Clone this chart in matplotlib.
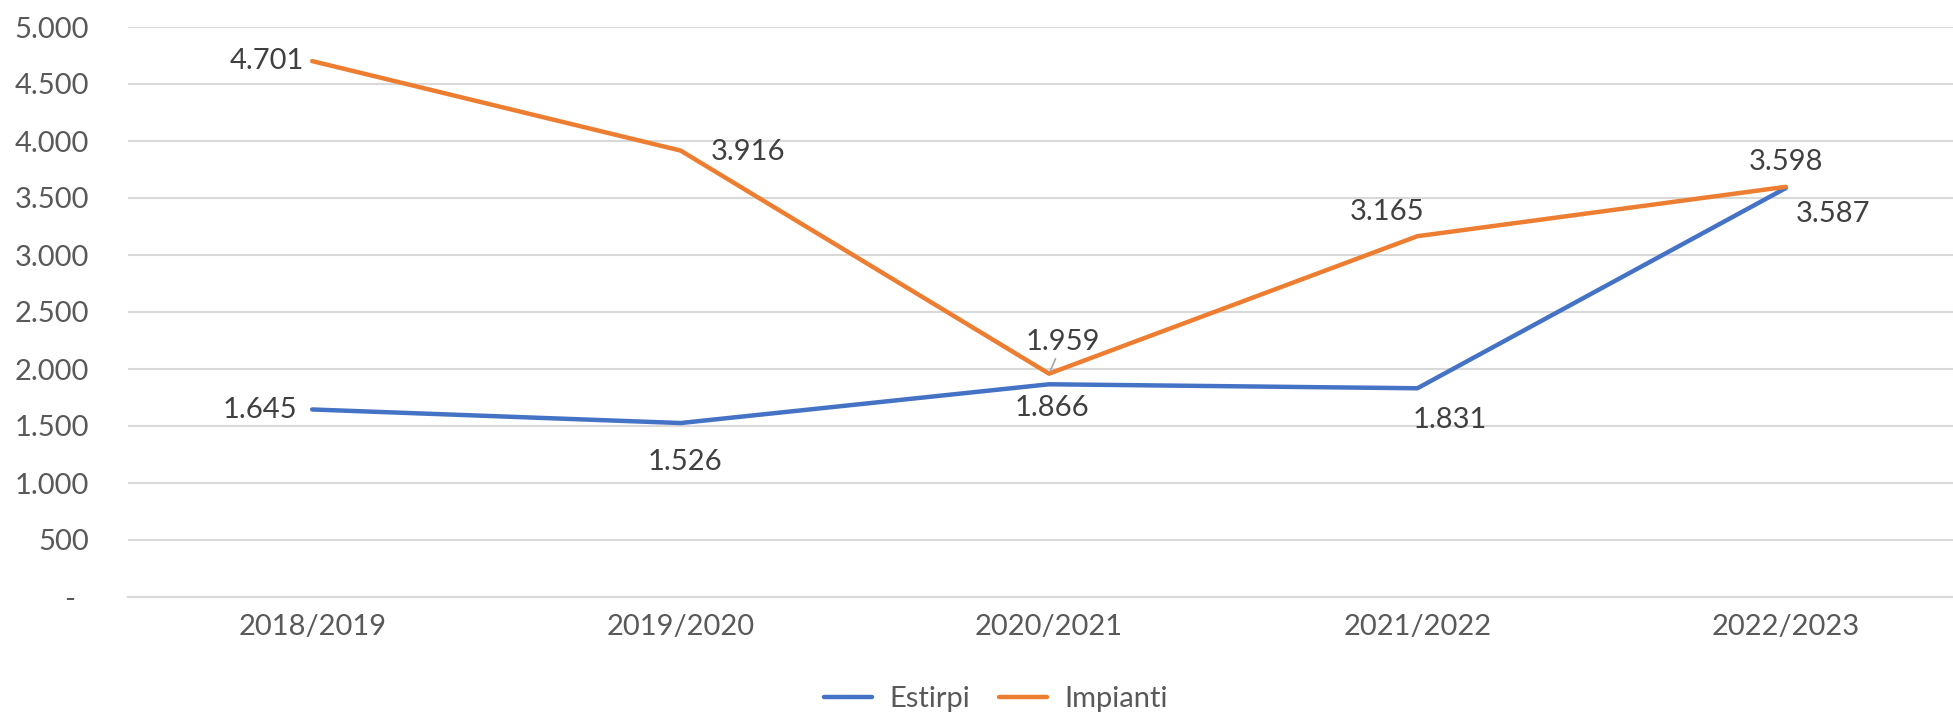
import matplotlib
matplotlib.use("Agg")
import matplotlib.pyplot as plt
import matplotlib.transforms as mtransforms
from matplotlib.ticker import FuncFormatter

categories = ["2018/2019", "2019/2020", "2020/2021", "2021/2022", "2022/2023"]
estirpi = [1645, 1526, 1866, 1831, 3587]
impianti = [4701, 3916, 1959, 3165, 3598]
yticks = [0, 500, 1000, 1500, 2000, 2500, 3000, 3500, 4000, 4500, 5000]

BLUE = "#4472C4"
ORANGE = "#ED7D31"
GRID = "#D9D9D9"
TICK = "#595959"
LABEL = "#404040"
FS = 21

plt.rcParams['font.family'] = ['Lato', 'DejaVu Sans']

W, H = 1953, 716
fig = plt.figure(figsize=(W / 100, H / 100), dpi=100)
left, right, bottom, top = 128, 1970, 597, 27
ax = fig.add_axes([left / W, 1 - bottom / H, (right - left) / W, (bottom - top) / H])

x = list(range(len(categories)))
ax.plot(x, estirpi, color=BLUE, lw=3.2, solid_capstyle='round', label="Estirpi", zorder=3)
ax.plot(x, impianti, color=ORANGE, lw=3.2, solid_capstyle='round', label="Impianti", zorder=3)

ax.set_xlim(-0.5, len(categories) - 0.5)
ax.set_ylim(0, 5000)
ax.set_yticks(yticks)

def fmt(v, pos):
    if v == 0:
        return "-"
    return f"{int(v):,}".replace(",", ".")

ax.yaxis.set_major_formatter(FuncFormatter(fmt))
ax.set_xticks(x)
ax.set_xticklabels(categories)
ax.grid(axis='y', color=GRID, lw=1.5)
ax.set_axisbelow(True)
for s in ax.spines.values():
    s.set_visible(False)
ax.spines['bottom'].set_visible(True)
ax.spines['bottom'].set_color(GRID)
ax.spines['bottom'].set_linewidth(1.5)
ax.tick_params(axis='both', length=0, labelsize=FS, colors=TICK)
ax.tick_params(axis='y', pad=28)
ax.tick_params(axis='x', pad=12)

fig.canvas.draw()
ylabs = ax.get_yticklabels()
ylabs[0].set_transform(ylabs[0].get_transform() + mtransforms.ScaledTranslation(-14 / 100, 0, fig.dpi_scale_trans))

def lab(xi, yi, dx, dy, ha='center', va='center', arrow=False):
    txt = f"{yi:,}".replace(",", ".")
    kw = {}
    if arrow:
        kw['arrowprops'] = dict(arrowstyle='-', color='#A6A6A6', lw=1.2, shrinkA=1, shrinkB=2)
    ax.annotate(txt, (xi, yi), xytext=(dx, dy), textcoords='offset pixels',
                ha=ha, va=va, fontsize=FS, color=LABEL, zorder=5, **kw)

# Impianti labels
imp_off = [(-8, 0, 'right'), (30, -1, 'left'), (14, 32, 'center'), (-30, 24, 'center'), (0, 25, 'center')]
for i, (dx, dy, ha) in enumerate(imp_off):
    lab(i, impianti[i], dx, dy, ha=ha, arrow=(i == 2))
# Estirpi labels
est_off = [(-15, -1, 'right'), (4, -39, 'center'), (3, -24, 'center'), (32, -32, 'center'), (47, -26, 'center')]
for i, (dx, dy, ha) in enumerate(est_off):
    lab(i, estirpi[i], dx, dy, ha=ha)

leg = fig.legend(loc='center', bbox_to_anchor=(996 / W, 1 - 699 / H), ncol=2, frameon=False,
                 fontsize=FS, handlelength=1.65, handletextpad=0.6, columnspacing=1.0)
for t in leg.get_texts():
    t.set_color(TICK)

fig.savefig("out.png", dpi=100)
